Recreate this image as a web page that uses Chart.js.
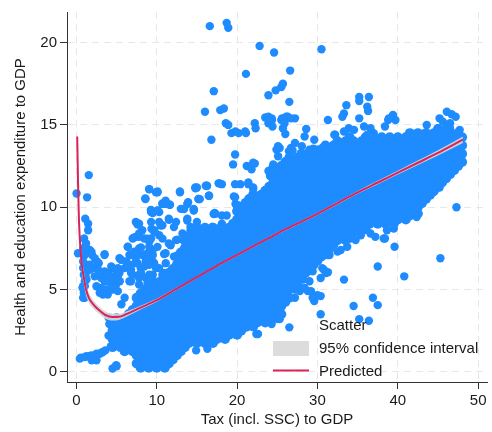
<!DOCTYPE html>
<html>
<head>
<meta charset="utf-8">
<script src="https://cdn.jsdelivr.net/npm/chart.js@4.4.1/dist/chart.umd.min.js"></script>
<style>
  html, body { margin: 0; padding: 0; background: #fff; }
  canvas { display: block; }
</style>
</head>
<body>
<canvas id="chart" width="492" height="432"></canvas>
<script>
// tick labels
const xTicks = [0, 10, 20, 30, 40, 50];
const yTicks = [0, 5, 10, 15, 20];

// dense part of the cloud, read column by column: [tax, [spending values]]
const bandColumns = [
  [4.5, [1.5, 2.0, 2.5, 3.0]],
  [5.0, [1.75, 2.25, 2.75, 3.25]],
  [5.5, [1.5, 2.0, 2.5, 3.0]],
  [6.0, [1.25, 1.75, 2.25, 2.75, 3.25]],
  [6.5, [1.5, 2.0, 2.5, 3.0, 3.5]],
  [7.0, [1.25, 1.75, 2.25, 2.75, 3.25, 3.75]],
  [7.5, [0.5, 1.0, 1.5, 2.0, 2.5, 3.0, 3.5, 4.0, 4.5]],
  [8.0, [0.25, 0.75, 1.25, 1.75, 2.25, 2.75, 3.25, 3.75, 4.25, 4.75]],
  [8.5, [0.5, 1.0, 1.5, 2.0, 2.5, 3.0, 3.5, 4.0, 4.5, 5.0]],
  [9.0, [0.25, 0.75, 1.25, 1.75, 2.25, 2.75, 3.25, 3.75, 4.25, 4.75, 5.25]],
  [9.5, [0.5, 1.0, 1.5, 2.0, 2.5, 3.0, 3.5, 4.0, 4.5, 5.0, 5.5]],
  [10.0, [0.25, 0.75, 1.25, 1.75, 2.25, 2.75, 3.25, 3.75, 4.25, 4.75, 5.25]],
  [10.5, [0.5, 1.0, 1.5, 2.0, 2.5, 3.0, 3.5, 4.0, 4.5, 5.0, 5.5]],
  [11.0, [0.25, 0.75, 1.25, 1.75, 2.25, 2.75, 3.25, 3.75, 4.25, 4.75, 5.25, 5.75]],
  [11.5, [0.5, 1.0, 1.5, 2.0, 2.5, 3.0, 3.5, 4.0, 4.5, 5.0, 5.5, 6.0]],
  [12.0, [0.75, 1.25, 1.75, 2.25, 2.75, 3.25, 3.75, 4.25, 4.75, 5.25, 5.75, 6.25]],
  [12.5, [1.0, 1.5, 2.0, 2.5, 3.0, 3.5, 4.0, 4.5, 5.0, 5.5, 6.0, 6.5, 7.0]],
  [13.0, [1.25, 1.75, 2.25, 2.75, 3.25, 3.75, 4.25, 4.75, 5.25, 5.75, 6.25, 6.75, 7.25]],
  [13.5, [1.5, 2.0, 2.5, 3.0, 3.5, 4.0, 4.5, 5.0, 5.5, 6.0, 6.5, 7.0, 7.5, 8.0]],
  [14.0, [1.75, 2.25, 2.75, 3.25, 3.75, 4.25, 4.75, 5.25, 5.75, 6.25, 6.75, 7.25, 7.75, 8.25]],
  [14.5, [2.0, 2.5, 3.0, 3.5, 4.0, 4.5, 5.0, 5.5, 6.0, 6.5, 7.0, 7.5, 8.0, 8.5]],
  [15.0, [1.75, 2.25, 2.75, 3.25, 3.75, 4.25, 4.75, 5.25, 5.75, 6.25, 6.75, 7.25, 7.75, 8.25, 8.75]],
  [15.5, [2.0, 2.5, 3.0, 3.5, 4.0, 4.5, 5.0, 5.5, 6.0, 6.5, 7.0, 7.5, 8.0, 8.5]],
  [16.0, [1.75, 2.25, 2.75, 3.25, 3.75, 4.25, 4.75, 5.25, 5.75, 6.25, 6.75, 7.25, 7.75, 8.25, 8.75]],
  [16.5, [2.0, 2.5, 3.0, 3.5, 4.0, 4.5, 5.0, 5.5, 6.0, 6.5, 7.0, 7.5, 8.0, 8.5]],
  [17.0, [1.75, 2.25, 2.75, 3.25, 3.75, 4.25, 4.75, 5.25, 5.75, 6.25, 6.75, 7.25, 7.75, 8.25, 8.75]],
  [17.5, [2.0, 2.5, 3.0, 3.5, 4.0, 4.5, 5.0, 5.5, 6.0, 6.5, 7.0, 7.5, 8.0, 8.5]],
  [18.0, [2.25, 2.75, 3.25, 3.75, 4.25, 4.75, 5.25, 5.75, 6.25, 6.75, 7.25, 7.75, 8.25, 8.75]],
  [18.5, [2.0, 2.5, 3.0, 3.5, 4.0, 4.5, 5.0, 5.5, 6.0, 6.5, 7.0, 7.5, 8.0, 8.5]],
  [19.0, [2.25, 2.75, 3.25, 3.75, 4.25, 4.75, 5.25, 5.75, 6.25, 6.75, 7.25, 7.75, 8.25, 8.75]],
  [19.5, [2.5, 3.0, 3.5, 4.0, 4.5, 5.0, 5.5, 6.0, 6.5, 7.0, 7.5, 8.0, 8.5, 9.0]],
  [20.0, [2.25, 2.75, 3.25, 3.75, 4.25, 4.75, 5.25, 5.75, 6.25, 6.75, 7.25, 7.75, 8.25, 8.75, 9.25, 9.75]],
  [20.5, [2.5, 3.0, 3.5, 4.0, 4.5, 5.0, 5.5, 6.0, 6.5, 7.0, 7.5, 8.0, 8.5, 9.0, 9.5, 10.0]],
  [21.0, [2.75, 3.25, 3.75, 4.25, 4.75, 5.25, 5.75, 6.25, 6.75, 7.25, 7.75, 8.25, 8.75, 9.25, 9.75]],
  [21.5, [3.0, 3.5, 4.0, 4.5, 5.0, 5.5, 6.0, 6.5, 7.0, 7.5, 8.0, 8.5, 9.0, 9.5, 10.0, 10.5]],
  [22.0, [2.75, 3.25, 3.75, 4.25, 4.75, 5.25, 5.75, 6.25, 6.75, 7.25, 7.75, 8.25, 8.75, 9.25, 9.75, 10.25, 10.75]],
  [22.5, [3.0, 3.5, 4.0, 4.5, 5.0, 5.5, 6.0, 6.5, 7.0, 7.5, 8.0, 8.5, 9.0, 9.5, 10.0, 10.5]],
  [23.0, [3.25, 3.75, 4.25, 4.75, 5.25, 5.75, 6.25, 6.75, 7.25, 7.75, 8.25, 8.75, 9.25, 9.75, 10.25, 10.75]],
  [23.5, [3.0, 3.5, 4.0, 4.5, 5.0, 5.5, 6.0, 6.5, 7.0, 7.5, 8.0, 8.5, 9.0, 9.5, 10.0, 10.5, 11.0]],
  [24.0, [3.25, 3.75, 4.25, 4.75, 5.25, 5.75, 6.25, 6.75, 7.25, 7.75, 8.25, 8.75, 9.25, 9.75, 10.25, 10.75, 11.25]],
  [24.5, [3.5, 4.0, 4.5, 5.0, 5.5, 6.0, 6.5, 7.0, 7.5, 8.0, 8.5, 9.0, 9.5, 10.0, 10.5, 11.0, 11.5, 12.0]],
  [25.0, [3.25, 3.75, 4.25, 4.75, 5.25, 5.75, 6.25, 6.75, 7.25, 7.75, 8.25, 8.75, 9.25, 9.75, 10.25, 10.75, 11.25, 11.75, 12.25]],
  [25.5, [3.5, 4.0, 4.5, 5.0, 5.5, 6.0, 6.5, 7.0, 7.5, 8.0, 8.5, 9.0, 9.5, 10.0, 10.5, 11.0, 11.5, 12.0, 12.5]],
  [26.0, [4.25, 4.75, 5.25, 5.75, 6.25, 6.75, 7.25, 7.75, 8.25, 8.75, 9.25, 9.75, 10.25, 10.75, 11.25, 11.75, 12.25, 12.75]],
  [26.5, [4.5, 5.0, 5.5, 6.0, 6.5, 7.0, 7.5, 8.0, 8.5, 9.0, 9.5, 10.0, 10.5, 11.0, 11.5, 12.0, 12.5, 13.0]],
  [27.0, [5.25, 5.75, 6.25, 6.75, 7.25, 7.75, 8.25, 8.75, 9.25, 9.75, 10.25, 10.75, 11.25, 11.75, 12.25, 12.75]],
  [27.5, [5.5, 6.0, 6.5, 7.0, 7.5, 8.0, 8.5, 9.0, 9.5, 10.0, 10.5, 11.0, 11.5, 12.0, 12.5, 13.0]],
  [28.0, [5.75, 6.25, 6.75, 7.25, 7.75, 8.25, 8.75, 9.25, 9.75, 10.25, 10.75, 11.25, 11.75, 12.25, 12.75, 13.25]],
  [28.5, [6.0, 6.5, 7.0, 7.5, 8.0, 8.5, 9.0, 9.5, 10.0, 10.5, 11.0, 11.5, 12.0, 12.5, 13.0]],
  [29.0, [6.25, 6.75, 7.25, 7.75, 8.25, 8.75, 9.25, 9.75, 10.25, 10.75, 11.25, 11.75, 12.25, 12.75, 13.25]],
  [29.5, [6.5, 7.0, 7.5, 8.0, 8.5, 9.0, 9.5, 10.0, 10.5, 11.0, 11.5, 12.0, 12.5, 13.0, 13.5]],
  [30.0, [6.75, 7.25, 7.75, 8.25, 8.75, 9.25, 9.75, 10.25, 10.75, 11.25, 11.75, 12.25, 12.75, 13.25]],
  [30.5, [7.0, 7.5, 8.0, 8.5, 9.0, 9.5, 10.0, 10.5, 11.0, 11.5, 12.0, 12.5, 13.0, 13.5]],
  [31.0, [7.25, 7.75, 8.25, 8.75, 9.25, 9.75, 10.25, 10.75, 11.25, 11.75, 12.25, 12.75, 13.25, 13.75]],
  [31.5, [7.5, 8.0, 8.5, 9.0, 9.5, 10.0, 10.5, 11.0, 11.5, 12.0, 12.5, 13.0, 13.5]],
  [32.0, [7.75, 8.25, 8.75, 9.25, 9.75, 10.25, 10.75, 11.25, 11.75, 12.25, 12.75, 13.25, 13.75]],
  [32.5, [8.0, 8.5, 9.0, 9.5, 10.0, 10.5, 11.0, 11.5, 12.0, 12.5, 13.0, 13.5, 14.0]],
  [33.0, [8.25, 8.75, 9.25, 9.75, 10.25, 10.75, 11.25, 11.75, 12.25, 12.75, 13.25, 13.75]],
  [33.5, [8.0, 8.5, 9.0, 9.5, 10.0, 10.5, 11.0, 11.5, 12.0, 12.5, 13.0, 13.5, 14.0]],
  [34.0, [8.25, 8.75, 9.25, 9.75, 10.25, 10.75, 11.25, 11.75, 12.25, 12.75, 13.25, 13.75, 14.25]],
  [34.5, [8.5, 9.0, 9.5, 10.0, 10.5, 11.0, 11.5, 12.0, 12.5, 13.0, 13.5, 14.0]],
  [35.0, [8.75, 9.25, 9.75, 10.25, 10.75, 11.25, 11.75, 12.25, 12.75, 13.25, 13.75]],
  [35.5, [9.0, 9.5, 10.0, 10.5, 11.0, 11.5, 12.0, 12.5, 13.0, 13.5, 14.0]],
  [36.0, [8.75, 9.25, 9.75, 10.25, 10.75, 11.25, 11.75, 12.25, 12.75, 13.25, 13.75, 14.25]],
  [36.5, [9.0, 9.5, 10.0, 10.5, 11.0, 11.5, 12.0, 12.5, 13.0, 13.5, 14.0]],
  [37.0, [9.25, 9.75, 10.25, 10.75, 11.25, 11.75, 12.25, 12.75, 13.25, 13.75, 14.25]],
  [37.5, [9.0, 9.5, 10.0, 10.5, 11.0, 11.5, 12.0, 12.5, 13.0, 13.5, 14.0]],
  [38.0, [9.25, 9.75, 10.25, 10.75, 11.25, 11.75, 12.25, 12.75, 13.25, 13.75, 14.25]],
  [38.5, [9.0, 9.5, 10.0, 10.5, 11.0, 11.5, 12.0, 12.5, 13.0, 13.5, 14.0]],
  [39.0, [9.25, 9.75, 10.25, 10.75, 11.25, 11.75, 12.25, 12.75, 13.25, 13.75, 14.25]],
  [39.5, [9.0, 9.5, 10.0, 10.5, 11.0, 11.5, 12.0, 12.5, 13.0, 13.5, 14.0]],
  [40.0, [9.25, 9.75, 10.25, 10.75, 11.25, 11.75, 12.25, 12.75, 13.25, 13.75, 14.25]],
  [40.5, [9.5, 10.0, 10.5, 11.0, 11.5, 12.0, 12.5, 13.0, 13.5, 14.0]],
  [41.0, [9.25, 9.75, 10.25, 10.75, 11.25, 11.75, 12.25, 12.75, 13.25, 13.75, 14.25]],
  [41.5, [9.5, 10.0, 10.5, 11.0, 11.5, 12.0, 12.5, 13.0, 13.5, 14.0, 14.5]],
  [42.0, [9.75, 10.25, 10.75, 11.25, 11.75, 12.25, 12.75, 13.25, 13.75, 14.25]],
  [42.5, [10.0, 10.5, 11.0, 11.5, 12.0, 12.5, 13.0, 13.5, 14.0, 14.5]],
  [43.0, [10.25, 10.75, 11.25, 11.75, 12.25, 12.75, 13.25, 13.75, 14.25]],
  [43.5, [10.5, 11.0, 11.5, 12.0, 12.5, 13.0, 13.5, 14.0, 14.5]],
  [44.0, [10.75, 11.25, 11.75, 12.25, 12.75, 13.25, 13.75, 14.25]],
  [44.5, [11.0, 11.5, 12.0, 12.5, 13.0, 13.5, 14.0, 14.5]],
  [45.0, [11.25, 11.75, 12.25, 12.75, 13.25, 13.75, 14.25, 14.75]],
  [45.5, [11.5, 12.0, 12.5, 13.0, 13.5, 14.0, 14.5]],
  [46.0, [11.75, 12.25, 12.75, 13.25, 13.75, 14.25, 14.75]],
  [46.5, [12.0, 12.5, 13.0, 13.5, 14.0, 14.5]],
  [47.0, [12.25, 12.75, 13.25, 13.75, 14.25]],
  [47.5, [12.5, 13.0, 13.5, 14.0, 14.5]],
  [48.0, [12.75, 13.25, 13.75, 14.25]]
];

// scattered observations around the dense band: [tax, spending]
const loosePoints = [
  // near the y axis
  [0.02, 10.83], [1.54, 11.95], [1.33, 10.6], [1.1, 9.3], [1.46, 9.0], [1.46, 8.6], [0.96, 8.1], [1.2, 7.8],
  [0.84, 7.5], [1.26, 7.5], [0.2, 7.2], [1.05, 7.1], [1.66, 7.4], [1.95, 7.1], [2.28, 6.9], [2.57, 6.7],
  [1.87, 7.3], [2.2, 6.3], [2.7, 6.2], [2.7, 6.6], [1.66, 6.2], [1.17, 6.5], [1.66, 6.5], [0.84, 6.7],
  [0.84, 6.3], [1.13, 5.9], [0.92, 5.9], [1.26, 5.6], [1.05, 5.5], [1.17, 5.7], [1.05, 5.2], [0.84, 5.2],
  [0.76, 5.1], [0.92, 4.8], [0.84, 4.5], [1.05, 4.5], [1.26, 6.2], [2.9, 5.9], [3.5, 7.1], [3.5, 6.1],
  [4.1, 5.85], [4.5, 6.3], [4.95, 5.9], [4.75, 5.5], [5.4, 5.5], [3.1, 5.7], [3.9, 5.5], [3.9, 5.8],
  [3.5, 5.5], [2.5, 5.2], [3.3, 4.7], [3.7, 5.0], [4.5, 5.0], [5.15, 4.9], [2.9, 4.8], [3.1, 4.8],
  [3.5, 4.9], [3.9, 4.7], [4.3, 5.4], [4.5, 5.7], [4.95, 5.3], [5.15, 5.8], [5.36, 6.0], [5.6, 4.1],
  [6.0, 4.5], [4.0, 2.2], [4.1, 2.9], [4.0, 3.3],
  // lower left streak
  [0.43, 0.8], [0.55, 0.86], [1.05, 0.9], [1.26, 0.94], [1.66, 0.94], [1.87, 1.0], [2.28, 1.0], [2.5, 1.1],
  [2.9, 1.1], [3.1, 1.16], [3.3, 1.2], [3.6, 1.3], [4.3, 1.56], [2.5, 0.7], [1.9, 0.7], [4.5, 0.2],
  [5.0, 0.34], [4.95, 0.4],
  // above the band, low tax
  [5.57, 6.8], [6.6, 7.1], [7.2, 7.3], [7.4, 6.6], [8.0, 6.3], [6.8, 6.2], [7.8, 5.7], [9.3, 5.7],
  [9.06, 5.2], [10.3, 5.3], [10.7, 5.9], [10.3, 6.3], [9.5, 6.7], [8.65, 6.9], [11.1, 7.2], [11.5, 7.8],
  [12.4, 8.0], [13.2, 8.4], [14.0, 8.1], [9.3, 8.1], [10.3, 8.3], [7.8, 8.2], [7.0, 8.1], [6.4, 7.6],
  [9.7, 8.6], [10.7, 8.9], [11.5, 9.3], [12.4, 9.1], [13.8, 9.3], [14.2, 8.8], [15.0, 9.1], [13.4, 9.9],
  [13.8, 10.2], [14.6, 9.9], [11.1, 10.2], [10.3, 9.7], [9.3, 9.7], [10.3, 9.1], [9.06, 11.1], [10.1, 10.9],
  [8.6, 10.5], [11.1, 10.4], [7.6, 9.0], [9.5, 7.4], [9.9, 10.9], [9.3, 9.8], [9.5, 9.65], [10.7, 10.2],
  [11.6, 10.15], [10.1, 9.8], [13.0, 9.9], [13.9, 10.3], [12.9, 10.9], [14.8, 11.2], [15.2, 10.5], [16.1, 11.3],
  [16.5, 10.7], [17.2, 9.65], [18.1, 9.5], [18.1, 11.4], [19.75, 11.4], [19.6, 10.65], [19.8, 10.2], [20.2, 10.1],
  [20.8, 10.0], [9.3, 9.1], [7.8, 9.0], [7.4, 8.2], [8.2, 8.6], [7.4, 9.1], [7.8, 8.4], [8.45, 8.1],
  [9.06, 7.9], [9.7, 8.5], [5.36, 6.9], [6.2, 6.7], [6.0, 6.3], [6.6, 6.5], [7.0, 7.1], [7.8, 7.5],
  [8.2, 7.1], [7.4, 6.7], [8.65, 6.7], [9.5, 7.1], [9.06, 6.5], [9.9, 6.3], [7.0, 5.9], [7.8, 5.9],
  [8.65, 5.7], [9.5, 5.9], [6.6, 5.5], [7.8, 5.3], [17.7, 11.45], [21.4, 11.4], [22.0, 11.1], [15.0, 11.2],
  [16.25, 11.3], [16.5, 10.7], [15.2, 10.5], [14.6, 9.8], [17.3, 9.6], [18.7, 9.5], [19.75, 10.6], [19.95, 10.1],
  [18.1, 9.0], [16.9, 8.8], [15.8, 8.6],
  [9.06, 11.09], [10.09, 10.95], [12.88, 10.95], [14.82, 11.15], [16.25, 11.29], [17.82, 11.45], [8.57, 10.53], [10.71, 10.23],
  [11.65, 10.15], [15.35, 10.49], [16.5, 10.69], [13.38, 9.89], [14.61, 9.83], [17.08, 9.59], [9.27, 9.83], [10.09, 9.79],
  [13.79, 9.19], [11.53, 9.23], [7.62, 8.95], [9.35, 8.69], [10.5, 8.89], [12.14, 8.79], [14.2, 8.59], [15.84, 8.69],
  [17.08, 8.69], [18.1, 8.49], [7.13, 8.15], [8.86, 8.09], [10.71, 8.09], [12.56, 8.03], [13.38, 7.95], [14.61, 7.89],
  [6.39, 7.59], [8.03, 7.55], [9.06, 7.59], [10.09, 7.59], [11.73, 7.69], [3.51, 7.15], [5.57, 6.8], [6.8, 7.1],
  [7.62, 7.1], [8.86, 7.2], [10.91, 7.16], [12.14, 7.0], [2.77, 6.6], [4.34, 6.4], [5.16, 6.3], [6.39, 6.5],
  [7.62, 6.6], [8.45, 6.4], [9.68, 6.6], [11.12, 6.6], [2.28, 5.8], [3.92, 6.0], [4.75, 5.8], [6.8, 6.0],
  [8.03, 6.0], [9.06, 5.9], [10.91, 6.0], [3.1, 5.1], [4.75, 5.1], [6.8, 5.5], [8.86, 5.4], [10.5, 5.3],
  // high outliers
  [16.6, 21.0], [18.7, 21.2], [18.9, 20.9], [22.8, 19.8], [24.6, 19.4], [30.5, 19.6], [21.1, 18.1], [26.6, 18.3],
  [17.1, 17.05], [25.7, 17.5], [25.5, 17.3], [24.8, 17.1], [23.9, 16.8], [26.5, 16.4], [16.0, 15.8], [17.9, 15.9],
  [18.35, 16.0], [18.6, 15.1], [18.9, 15.0], [19.3, 14.5], [19.8, 14.6], [16.8, 14.1], [21.1, 14.5], [22.2, 15.1],
  [22.3, 14.8], [23.5, 15.45], [23.9, 15.5], [24.35, 15.3], [24.4, 14.9], [25.5, 15.3], [25.9, 15.4], [26.3, 15.5],
  [27.2, 15.4], [25.7, 14.8], [26.0, 14.45], [28.6, 14.75], [31.3, 15.3], [33.3, 15.7], [33.6, 16.2], [33.1, 15.5],
  [32.2, 14.4], [27.2, 13.9], [28.05, 13.7], [26.9, 13.45], [26.45, 13.4], [24.9, 13.5], [25.3, 13.6], [19.75, 13.2],
  [19.5, 12.6], [21.2, 12.5], [22.2, 12.65], [24.5, 12.6], [24.4, 12.4], [28.8, 13.3], [29.6, 13.45], [30.6, 13.45],
  [21.8, 12.3], [24.2, 11.9], [35.2, 16.7], [36.4, 16.7], [35.2, 16.45], [36.2, 16.1], [36.3, 15.85], [35.2, 15.4],
  [38.8, 15.3], [39.4, 15.6], [39.7, 15.3], [38.4, 14.9], [43.6, 15.0], [45.2, 15.4], [46.1, 15.8], [46.7, 15.65],
  [47.2, 15.5], [45.6, 15.2], [46.5, 15.1], [47.7, 14.7], [32.1, 14.4], [45.0, 14.8], [46.5, 14.8], [24.3, 15.4],
  [23.9, 15.1], [25.6, 15.4], [26.1, 15.5], [26.7, 15.4], [25.9, 15.1], [21.0, 14.6], [20.2, 14.5], [33.3, 14.6],
  [33.9, 14.8], [34.55, 14.7], [35.8, 14.9], [36.6, 14.8], [37.0, 14.5], [36.2, 14.4], [26.7, 13.6], [25.1, 13.7],
  [25.1, 13.1], [22.0, 12.7], [21.4, 11.5], [22.0, 11.2], [20.4, 11.4], [21.0, 10.3], [24.1, 11.9], [23.9, 12.2],
  [28.4, 14.3], [29.0, 13.5], [30.0, 13.5], [30.6, 13.6], [29.6, 14.1], [38.9, 15.4],
  // below the band, high tax
  [47.3, 10.0], [45.3, 6.9], [40.8, 5.8], [37.5, 6.4], [39.6, 7.6], [38.4, 8.1], [38.65, 8.6], [42.35, 9.4],
  [42.6, 9.6], [44.4, 10.9], [45.2, 11.2], [33.3, 5.6], [31.3, 6.05], [32.9, 7.4], [32.1, 7.9], [34.1, 8.1],
  [35.4, 8.3], [35.8, 8.6], [36.9, 4.5], [37.5, 4.05], [34.5, 4.0], [35.2, 3.2], [36.4, 3.1], [30.8, 6.2],
  [31.05, 6.0], [30.4, 5.7], [28.8, 6.3], [30.4, 3.5], [29.2, 4.9], [29.6, 4.3], [30.0, 4.65], [29.0, 5.5],
  [28.4, 5.1], [27.8, 4.9], [27.2, 4.5], [26.5, 5.1], [25.5, 5.2], [26.5, 2.7], [25.3, 3.7], [25.3, 3.2],
  [24.1, 3.7], [24.3, 2.9], [22.6, 2.3], [21.0, 2.7], [15.0, 1.8], [15.6, 1.9], [20.2, 2.4], [21.2, 2.7],
  [22.4, 2.3], [20.4, 3.1], [28.8, 4.9], [29.4, 4.5], [30.4, 4.6], [29.4, 6.1], [30.6, 6.3], [31.5, 7.1],
  [39.5, 8.7], [36.6, 8.4], [38.25, 8.1], [37.2, 8.2], [34.75, 8.0], [33.7, 7.6], [32.5, 7.3], [31.7, 7.7],
  [31.3, 7.1], [14.9, 1.3], [16.3, 1.4], [27.2, 5.0], [28.2, 5.6], [27.6, 5.3]
];

// fitted values and 95% band
const fitX = [0.1, 0.2, 0.3, 0.4, 0.55, 0.7, 0.9, 1.2, 1.6, 2.1, 2.8, 3.6, 4.5, 5.3, 6.2, 8, 10, 12.5, 15, 17.5, 20, 22.5, 25, 27.5, 30, 32.5, 35, 37.5, 40, 42.5, 45, 48.1];
const fitY = [14.3, 11.6, 9.5, 8.3, 7.2, 6.4, 5.8, 5.0, 4.45, 4.1, 3.75, 3.45, 3.33, 3.34, 3.5, 3.9, 4.35, 5.05, 5.75, 6.45, 7.1, 7.75, 8.4, 9.0, 9.6, 10.25, 10.9, 11.5, 12.1, 12.7, 13.3, 14.1];
const ciLow = [13.6, 10.9, 8.85, 7.7, 6.7, 5.95, 5.4, 4.65, 4.15, 3.85, 3.52, 3.23, 3.12, 3.15, 3.34, 3.78, 4.26, 4.98, 5.69, 6.39, 7.04, 7.69, 8.34, 8.94, 9.53, 10.17, 10.81, 11.4, 11.98, 12.56, 13.14, 13.9];
const ciHigh = [15.0, 12.3, 10.15, 8.9, 7.7, 6.85, 6.2, 5.35, 4.75, 4.35, 3.98, 3.67, 3.54, 3.53, 3.66, 4.02, 4.44, 5.12, 5.81, 6.51, 7.16, 7.81, 8.46, 9.06, 9.67, 10.33, 10.99, 11.6, 12.22, 12.84, 13.46, 14.3];

const BLUE = "#1e8cff";
const RED = "#d8245a";
const BAND = "rgba(214,214,214,0.92)";
const FONT = "'Liberation Sans', Arial, sans-serif";
const TEXT = "#1a1a1a";

const bandData = [];
bandColumns.forEach(([x, ys]) => ys.forEach((y) => bandData.push({ x, y })));
const looseData = loosePoints.map(([x, y]) => ({ x, y }));

const asXY = (ys) => fitX.map((x, i) => ({ x, y: ys[i] }));

// legend drawn inside the plot, bottom right
const insideLegend = {
  id: "insideLegend",
  afterDraw(chart) {
    const c = chart.ctx;
    c.save();
    c.font = "15px " + FONT;
    c.fillStyle = TEXT;
    c.textBaseline = "middle";
    c.textAlign = "left";
    c.fillText("Scatter", 319, 326);
    c.fillStyle = "#dcdcdc";
    c.fillRect(273, 341, 36, 15);
    c.fillStyle = TEXT;
    c.fillText("95% confidence interval", 319, 349);
    c.strokeStyle = RED;
    c.lineWidth = 2;
    c.beginPath();
    c.moveTo(273, 370.5);
    c.lineTo(309, 370.5);
    c.stroke();
    c.fillText("Predicted", 319, 371.5);
    c.restore();
  },
};

const gridOpts = { color: "#e8e8e8", lineWidth: 1, tickLength: 7, tickColor: "#333", tickWidth: 1 };
const borderOpts = { color: "#333", width: 1, dash: [7, 5] };

new Chart(document.getElementById("chart"), {
  type: "scatter",
  data: {
    datasets: [
      {
        label: "Scatter",
        data: bandData,
        pointRadius: 5,
        pointHoverRadius: 5,
        backgroundColor: BLUE,
        borderWidth: 0,
        order: 3,
      },
      {
        label: "Scatter (loose)",
        data: looseData,
        pointRadius: 4.2,
        pointHoverRadius: 4.2,
        backgroundColor: BLUE,
        borderWidth: 0,
        order: 3,
      },
      {
        type: "line",
        label: "ci low",
        data: asXY(ciLow),
        borderColor: "rgba(0,0,0,0)",
        borderWidth: 1,
        pointRadius: 0,
        fill: false,
        cubicInterpolationMode: "monotone",
        order: 2,
      },
      {
        type: "line",
        label: "95% confidence interval",
        data: asXY(ciHigh),
        borderColor: "rgba(0,0,0,0)",
        borderWidth: 1,
        pointRadius: 0,
        backgroundColor: BAND,
        fill: "-1",
        cubicInterpolationMode: "monotone",
        order: 2,
      },
      {
        type: "line",
        label: "Predicted",
        data: asXY(fitY),
        borderColor: RED,
        borderWidth: 2,
        pointRadius: 0,
        fill: false,
        cubicInterpolationMode: "monotone",
        order: 1,
      },
    ],
  },
  options: {
    responsive: false,
    animation: false,
    devicePixelRatio: 1,
    layout: { padding: { top: 7, right: 1, left: 0, bottom: 0 } },
    plugins: { legend: { display: false }, tooltip: { enabled: false } },
    scales: {
      x: {
        type: "linear",
        min: -1.17,
        max: 51.1,
        afterFit(s) { s.height = 50; },
        afterBuildTicks(s) { s.ticks = xTicks.map((v) => ({ value: v })); },
        grid: gridOpts,
        border: borderOpts,
        ticks: { font: { size: 15, family: FONT }, color: TEXT, padding: 3 },
        title: {
          display: true,
          text: "Tax (incl. SSC) to GDP",
          font: { size: 15, family: FONT },
          color: TEXT,
          padding: { top: 0, bottom: 3 },
        },
      },
      y: {
        type: "linear",
        min: -0.62,
        max: 21.86,
        afterFit(s) { s.width = 67; },
        afterBuildTicks(s) { s.ticks = yTicks.map((v) => ({ value: v })); },
        grid: gridOpts,
        border: borderOpts,
        ticks: { font: { size: 15, family: FONT }, color: TEXT, padding: 3 },
        title: {
          display: true,
          text: "Health and education expenditure to GDP",
          font: { size: 15, family: FONT },
          color: TEXT,
          padding: { top: 12, bottom: 0 },
        },
      },
    },
  },
  plugins: [insideLegend],
});
</script>
</body>
</html>
